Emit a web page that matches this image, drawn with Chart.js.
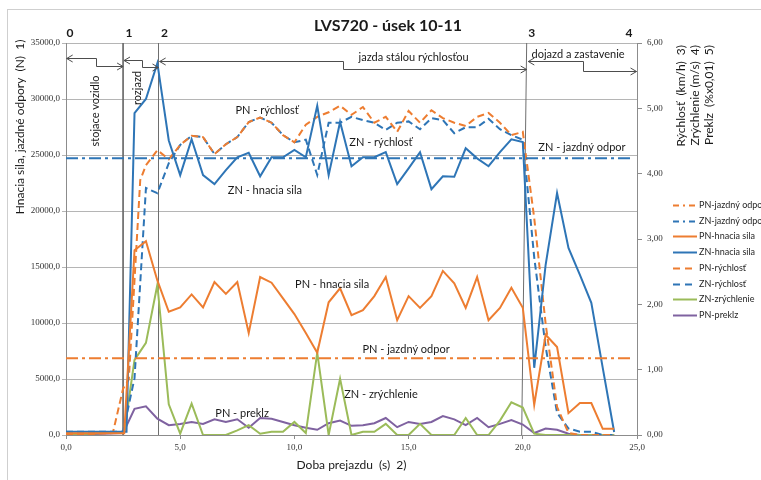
<!DOCTYPE html>
<html>
<head>
<meta charset="utf-8">
<script src="https://cdn.jsdelivr.net/npm/chart.js@4.4.0/dist/chart.umd.min.js"></script>
<style>
  html, body { margin: 0; padding: 0; background: #fff; }
  #wrap { width: 761px; height: 480px; position: relative; }
</style>
</head>
<body>
<div id="wrap"><canvas id="chart"></canvas></div>
<script>
// spoločná časová os od 4,0 s (s)
const cas = [4.0, 4.5, 5.0, 5.5, 6.0, 6.5, 7.0, 7.5, 8.0, 8.5, 9.0, 9.5, 10.0, 10.5,
  11.0, 11.5, 12.0, 12.5, 13.0, 13.5, 14.0, 14.5, 15.0, 15.5, 16.0, 16.5, 17.0, 17.5,
  18.0, 18.5, 19.0, 19.5, 20.0, 20.5, 21.0, 21.5, 22.0, 22.5, 23.0, 23.5, 24.0];

// rozjazd - začiatočné body každej série
const znHnaciaT0 = [0, 2.65, 3.0, 3.5];
const znHnacia0 = [300, 300, 28750, 30000];
const pnHnaciaT0 = [0, 2.55, 3.0, 3.5];
const pnHnacia0 = [150, 150, 16500, 17300];
const pnRychlostT0 = [0, 2.05, 2.5, 2.75, 3.25, 3.5];
const pnRychlost0 = [0, 0.03, 0.71, 0.85, 3.9, 4.13];
const znRychlostT0 = [0, 2.5, 3.0, 3.5];
const znRychlost0 = [0.05, 0.05, 0.87, 3.78];
const znZrychlenieT0 = [0, 2.55, 3.0, 3.5];
const znZrychlenie0 = [0, 0.05, 1.15, 1.41];
const pnPreklzT0 = [0, 2.5, 3.0, 3.5];
const pnPreklz0 = [0, 0.03, 0.4, 0.44];

// hodnoty na osi cas
const znHnacia = [33200, 26300, 23200, 26400, 23200, 22400, 23650, 24800, 25200, 23100,
  24800, 24800, 25450, 24800, 29400, 23200, 27950, 24000, 24800, 24800, 25250, 22400,
  23800, 25250, 21950, 23100, 23050, 25600, 24700, 24000, 25250, 26400, 26150, 6000,
  15200, 21600, 16700, 14300, 11800, 6000, 270];
const pnHnacia = [13800, 11000, 11400, 12550, 11400, 13650, 12600, 13650, 9100, 14100,
  13600, 12200, 10800, 9100, 7350, 11850, 13100, 10700, 11150, 12400, 14100, 10250,
  12400, 11350, 12400, 14650, 13550, 11350, 14100, 10250, 11350, 13150, 11350, 2700,
  8950, 7850, 1950, 2850, 2850, 550, 550];
const pnRychlost = [4.36, 4.22, 4.44, 4.58, 4.56, 4.3, 4.45, 4.56, 4.79, 4.86, 4.78, 4.59,
  4.48, 4.75, 4.87, 4.94, 5.04, 4.9, 5.02, 4.78, 4.87, 4.64, 4.96, 4.78, 4.97, 4.85, 4.78,
  4.73, 4.87, 4.93, 4.78, 4.59, 4.64, 3.32, 1.7, 0.43, 0.03, 0, 0, 0, 0];
const znRychlost = [3.7, 4.16, 4.44, 4.58, 4.56, 4.3, 4.45, 4.56, 4.79, 4.86, 4.78, 4.59,
  4.48, 4.52, 3.98, 4.78, 4.78, 4.87, 4.82, 4.78, 4.67, 4.78, 4.8, 4.68, 4.85, 4.82, 4.62,
  4.71, 4.71, 4.84, 4.68, 4.59, 4.52, 2.72, 1.35, 0.34, 0.1, 0.05, 0.05, 0, 0];
const znZrychlenie = [2.3, 0.47, 0.02, 0.48, 0, 0, 0, 0.07, 0.15, 0.02, 0.05, 0.05, 0.2,
  0.03, 1.26, 0, 0.86, 0, 0.05, 0.05, 0.17, 0, 0, 0.17, 0, 0, 0, 0.26, 0, 0, 0.22, 0.5,
  0.42, 0.02, 0, 0, 0, 0, 0, 0, 0];
const pnPreklz = [0.25, 0.15, 0.17, 0.2, 0.17, 0.24, 0.2, 0.24, 0.11, 0.26, 0.25, 0.2,
  0.15, 0.11, 0.08, 0.18, 0.22, 0.14, 0.15, 0.18, 0.26, 0.12, 0.2, 0.17, 0.2, 0.29, 0.24,
  0.15, 0.26, 0.12, 0.17, 0.23, 0.16, 0.03, 0.1, 0.08, 0.02, 0, 0, 0, 0];

// jazdné odpory (N), konštantné
const odporT = [0, 24.8];
const pnOdpor = 6850;
const znOdpor = 24700;

// hranice fáz 0..4 (hore / dole na osi)
const fazyTop = [2.5, 4.05, 20.17];
const fazyBottom = [2.5, 4.05, 19.95];
const fazyCisla = ['0', '1', '2', '3', '4'];

const ORANGE = '#ED7D31';
const BLUE = '#2E75B6';
const GREEN = '#9BBB59';
const PURPLE = '#7F62A0';

function pts(t0, v0, v) {
  const out = t0.map((t, i) => ({ x: t, y: v0[i] }));
  cas.forEach((t, i) => out.push({ x: t, y: v[i] }));
  return out;
}

function line(label, data, color, axis, dash) {
  return {
    label, data, yAxisID: axis, showLine: true, borderColor: color, backgroundColor: color,
    borderWidth: 2, borderDash: dash || [], pointRadius: 0, fill: false
  };
}

const DASH = [7, 4];
const DASHDOT = [12, 4, 3, 4];

const datasets = [
  line('PN-jazdný odpor', odporT.map(t => ({ x: t, y: pnOdpor })), ORANGE, 'y', DASHDOT),
  line('ZN-jazdný odpor', odporT.map(t => ({ x: t, y: znOdpor })), BLUE, 'y', DASHDOT),
  line('PN-hnacia sila', pts(pnHnaciaT0, pnHnacia0, pnHnacia), ORANGE, 'y'),
  line('ZN-hnacia sila', pts(znHnaciaT0, znHnacia0, znHnacia), BLUE, 'y'),
  line('PN-rýchlosť', pts(pnRychlostT0, pnRychlost0, pnRychlost), ORANGE, 'y1', DASH),
  line('ZN-rýchlosť', pts(znRychlostT0, znRychlost0, znRychlost), BLUE, 'y1', DASH),
  line('ZN-zrýchlenie', pts(znZrychlenieT0, znZrychlenie0, znZrychlenie), GREEN, 'y1'),
  line('PN-preklz', pts(pnPreklzT0, pnPreklz0, pnPreklz), PURPLE, 'y1')
];
const legendCount = datasets.length;

// zvislé čiary hraníc fáz
fazyTop.forEach((t, i) => {
  datasets.push({
    label: 'faza' + (i + 1), data: [{ x: t, y: 35000 }, { x: fazyBottom[i], y: 0 }],
    yAxisID: 'y', showLine: true, borderColor: '#6e6e6e', borderWidth: 1, pointRadius: 0
  });
});

// popisy v grafe (t, N)
const popisy = [
  { text: 'PN - rýchlosť', t: 8.8, v: 29020 },
  { text: 'ZN - rýchlosť', t: 13.79, v: 26160 },
  { text: 'ZN - jazdný odpor', t: 22.59, v: 25715 },
  { text: 'ZN - hnacia sila', t: 8.71, v: 21875 },
  { text: 'PN - hnacia sila', t: 11.65, v: 13480 },
  { text: 'PN - jazdný odpor', t: 14.89, v: 7680 },
  { text: 'ZN - zrýchlenie', t: 13.79, v: 3660 },
  { text: 'PN - preklz', t: 7.71, v: 1965 },
  { text: 'jazda stálou rýchlosťou', t: 15.22, v: 33750 },
  { text: 'dojazd a zastavenie', t: 22.42, v: 34020 },
  { text: 'stojace vozidlo', t: 1.31, v: 28930, rot: true },
  { text: 'rozjazd', t: 3.11, v: 30980, rot: true }
];

// šípky fáz
const sipky = [
  { from: 0.03, to: 2.5, step: 1.3, hi: 33650, lo: 32950 },
  { from: 2.54, to: 4.05, step: 3.31, hi: 33480, lo: 32830 },
  { from: 4.1, to: 20.17, step: 12.13, hi: 33390, lo: 32650 },
  { from: 20.24, to: 24.98, step: 22.62, hi: 33390, lo: 32500 }
];

const SANS = 'Lato, "Open Sans", sans-serif';
const SERIF = '"Liberation Serif", "DejaVu Serif", serif';

const annotPlugin = {
  id: 'annot',
  beforeDraw(chart) {
    const c = chart.ctx;
    c.save();
    c.fillStyle = '#fff';
    c.fillRect(0, 0, chart.width, chart.height);
    c.strokeStyle = '#cfcfcf';
    c.lineWidth = 1;
    c.strokeRect(7.5, 9.5, chart.width + 20, chart.height + 20);
    c.restore();
  },
  afterDraw(chart) {
    const c = chart.ctx;
    const xs = chart.scales.x;
    const ys = chart.scales.y;
    const area = chart.chartArea;
    c.save();
    c.fillStyle = '#1a1a1a';
    c.textBaseline = 'middle';

    // nadpis
    c.font = 'bold 16px ' + SANS;
    c.textAlign = 'center';
    c.fillText('LVS720 - úsek 10-11', 388, 26);

    // čísla fáz
    c.font = 'bold 12px ' + SANS;
    const cislaX = [xs.getPixelForValue(0) + 4, xs.getPixelForValue(fazyTop[0]) + 6,
      xs.getPixelForValue(fazyTop[1]) + 6, xs.getPixelForValue(fazyTop[2]) + 5,
      xs.getPixelForValue(25) - 8];
    fazyCisla.forEach((s, i) => c.fillText(s, cislaX[i], 33));

    // popisy
    c.font = '11px ' + SANS;
    popisy.forEach(p => {
      const px = xs.getPixelForValue(p.t);
      const py = ys.getPixelForValue(p.v);
      if (p.rot) {
        c.save();
        c.translate(px, py);
        c.rotate(-Math.PI / 2);
        c.fillText(p.text, 0, 0);
        c.restore();
      } else {
        c.fillText(p.text, px, py);
      }
    });

    // šípky
    c.strokeStyle = '#4d4d4d';
    c.lineWidth = 1;
    sipky.forEach(s => {
      const x1 = xs.getPixelForValue(s.from);
      const x2 = xs.getPixelForValue(s.to);
      const xm = Math.round(xs.getPixelForValue(s.step)) + 0.5;
      const y1 = Math.round(ys.getPixelForValue(s.hi)) + 0.5;
      const y2 = Math.round(ys.getPixelForValue(s.lo)) + 0.5;
      c.beginPath();
      c.moveTo(x1, y1); c.lineTo(xm, y1); c.lineTo(xm, y2); c.lineTo(x2, y2);
      c.moveTo(x1 + 6, y1 - 3.5); c.lineTo(x1, y1); c.lineTo(x1 + 6, y1 + 3.5);
      c.moveTo(x2 - 6, y2 - 3.5); c.lineTo(x2, y2); c.lineTo(x2 - 6, y2 + 3.5);
      c.stroke();
    });

    // názvy osí
    c.font = '12px ' + SANS;
    c.textAlign = 'center';
    c.fillText('Doba prejazdu  (s)  2)', (area.left + area.right) / 2, 465);
    c.save();
    c.translate(20, 127);
    c.rotate(-Math.PI / 2);
    c.fillText('Hnacia sila, jazdné odpory  (N)  1)', 0, 0);
    c.restore();
    const pravo = ['Rýchlosť  (km/h)  3)', 'Zrýchlenie (m/s)  4)', 'Preklz  (%x0,01)  5)'];
    c.textAlign = 'right';
    pravo.forEach((s, i) => {
      c.save();
      c.translate(681 + i * 14, 45);
      c.rotate(-Math.PI / 2);
      c.fillText(s, 0, 0);
      c.restore();
    });

    // legenda
    c.font = '9px ' + SANS;
    c.textAlign = 'left';
    for (let i = 0; i < legendCount; i++) {
      const ds = chart.data.datasets[i];
      const y = Math.round(205 + i * 15.7) + 0.5;
      c.strokeStyle = ds.borderColor;
      c.lineWidth = 2;
      c.setLineDash(ds.borderDash.length ? (ds.borderDash === DASH ? [7, 5] : [6, 4, 2, 4]) : []);
      c.beginPath();
      c.moveTo(673, y); c.lineTo(697, y);
      c.stroke();
      c.setLineDash([]);
      c.fillStyle = '#262626';
      c.fillText(ds.label, 699, y);
    }
    c.restore();
  }
};

const tickFont = { family: SERIF, size: 9 };
const AXIS = '#8c8c8c';

const chart = new Chart(document.getElementById('chart'), {
  type: 'scatter',
  data: { datasets },
  options: {
    responsive: true,
    maintainAspectRatio: false,
    animation: false,
    layout: { padding: { top: 43, left: 0, right: 0, bottom: 0 } },
    plugins: { legend: { display: false }, tooltip: { enabled: false } },
    elements: { line: { tension: 0 } },
    scales: {
      x: {
        type: 'linear', min: 0, max: 25,
        afterFit: s => { s.height = 45; },
        ticks: { stepSize: 5, maxRotation: 0, padding: 3, font: tickFont, color: '#333',
          callback: v => v.toFixed(1).replace('.', ',') },
        grid: { drawOnChartArea: false, tickLength: 4, color: AXIS },
        border: { color: AXIS }
      },
      y: {
        position: 'left', min: 0, max: 35000,
        afterFit: s => { s.width = 66; },
        ticks: { stepSize: 5000, padding: 2, font: tickFont, color: '#333',
          callback: v => v.toFixed(1).replace('.', ',') },
        grid: { color: '#b5b5b5', tickLength: 4 },
        border: { color: AXIS }
      },
      y1: {
        position: 'right', min: 0, max: 6,
        afterFit: s => { s.width = 124; },
        ticks: { stepSize: 1, padding: 5, font: tickFont, color: '#333',
          callback: v => v.toFixed(2).replace('.', ',') },
        grid: { drawOnChartArea: false, tickLength: 5, color: AXIS },
        border: { color: AXIS }
      }
    }
  },
  plugins: [annotPlugin]
});
</script>
</body>
</html>
